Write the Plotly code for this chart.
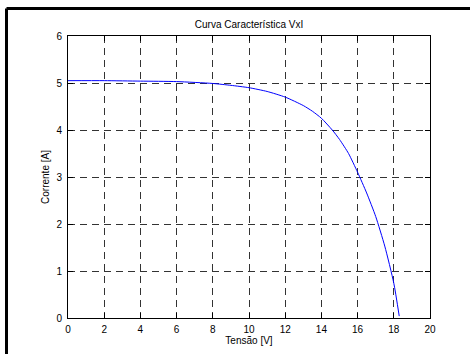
import plotly.graph_objects as go

tensao = [0, 2, 4, 6, 8, 9, 10, 11, 12, 13, 13.5, 14, 14.6, 15, 15.5, 16, 16.5, 17, 17.5, 18, 18.3]
corrente = [5.05, 5.05, 5.04, 5.03, 4.99, 4.95, 4.90, 4.82, 4.70, 4.52, 4.40, 4.25, 4.00, 3.80, 3.50, 3.10, 2.66, 2.16, 1.53, 0.74, 0.04]
x_ticks = [0, 2, 4, 6, 8, 10, 12, 14, 16, 18, 20]
y_ticks = [0, 1, 2, 3, 4, 5, 6]

W, H = 470, 354
L, T, R, B = 68, 36, 40, 36
pw, ph = W - L - R, H - T - B

FONT = "Liberation Sans, Arial"

fig = go.Figure()
fig.add_trace(go.Scatter(x=tensao, y=corrente, mode="lines", hoverinfo="skip",
                         line=dict(color="#0000ff", width=1, shape="spline", smoothing=0.6)))

axis_common = dict(
    showline=True, linecolor="black", linewidth=1, mirror="ticks",
    ticks="inside", ticklen=5, tickcolor="black", tickwidth=1,
    showgrid=True, gridcolor="#333333", gridwidth=1, griddash="7px,5px",
    zeroline=False, automargin=False,
    tickfont=dict(family=FONT, size=10, color="black"),
)
fig.update_xaxes(range=[0, 20], tickvals=x_ticks, ticklabelstandoff=2,
                 title=dict(text="Tensão [V]", standoff=2, font=dict(family=FONT, size=10, color="black")), **axis_common)
fig.update_yaxes(range=[0, 6], tickvals=y_ticks, ticklabelstandoff=3,
                 title=dict(text="Corrente [A]", standoff=4, font=dict(family=FONT, size=10, color="black")), **axis_common)

# outer frame (top and left edges visible)
x_left = (6.5 - L) / pw
x_right = (W + 5 - L) / pw
y_top = (H - B - 8.5) / ph
y_bot = -(B + 5) / ph
fig.add_shape(type="line", xref="paper", yref="paper", x0=x_left, x1=x_right, y0=y_top, y1=y_top,
              line=dict(color="black", width=3))
fig.add_shape(type="line", xref="paper", yref="paper", x0=x_left, x1=x_left, y0=y_top, y1=y_bot,
              line=dict(color="black", width=3))

fig.update_layout(
    width=W, height=H, margin=dict(l=L, r=R, t=T, b=B),
    paper_bgcolor="white", plot_bgcolor="white", showlegend=False, hovermode=False,
    title=dict(text="Curva Característica VxI", x=(L + pw / 2) / W, xanchor="center",
               y=1 - 24 / H, yanchor="middle",
               font=dict(family=FONT, size=10, color="black")),
)
fig.write_html("out.html", config={"displayModeBar": False},
               post_script="document.body.style.margin='0';document.body.style.overflow='hidden';")
